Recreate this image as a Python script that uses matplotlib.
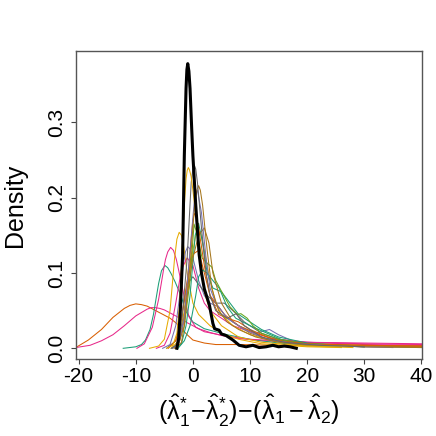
import matplotlib
matplotlib.use("Agg")
import matplotlib.pyplot as plt

# Dark2 palette, as used by the original R plot
teal = "#1B9E77"
orange = "#D95F02"
purple = "#7570B3"
pink = "#E7298A"
green = "#66A61E"
yellow = "#E6AB02"
brown = "#A6761D"
grey = "#666666"

# bootstrap density curves (x, density)
orange_wide_x = [-20.5, -18.3, -16, -14, -12, -11, -10, -9, -8, -6, -4, -3, -2, -1, 0, 2, 4, 8, 15, 25, 40.1]
orange_wide_y = [0.001, 0.011, 0.025, 0.041, 0.053, 0.057, 0.059, 0.058, 0.056, 0.048, 0.040, 0.034, 0.026, 0.018, 0.011, 0.007, 0.005, 0.005, 0.004, 0.003, 0.003]

pink_wide_x = [-20.5, -18, -16, -14, -12, -10, -8, -7.3, -6.6, -5.8, -5, -3, -1, 1, 3, 5, 8, 12, 20, 30, 40.1]
pink_wide_y = [0.001, 0.004, 0.010, 0.018, 0.030, 0.043, 0.052, 0.054, 0.054, 0.053, 0.051, 0.043, 0.034, 0.026, 0.021, 0.017, 0.013, 0.010, 0.008, 0.007, 0.006]

teal_left_x = [-12.2, -10, -9, -8.3, -7.5, -6.9, -6.4, -6, -5.5, -4.9, -4.4, -3.8, -3.1, -2, -1.3, 0, 2, 4, 6, 10, 15, 20, 28]
teal_left_y = [0, 0.002, 0.005, 0.011, 0.025, 0.045, 0.068, 0.086, 0.103, 0.110, 0.107, 0.099, 0.088, 0.068, 0.050, 0.035, 0.026, 0.022, 0.018, 0.012, 0.007, 0.004, 0.002]

pink_left_x = [-9.8, -8.5, -7.1, -6, -5.1, -4.8, -4.4, -3.9, -3.4, -2.9, -2.5, -1.5, -0.7, 0.5, 2, 4, 6, 10, 20, 30, 40.1]
pink_left_y = [0, 0.006, 0.028, 0.065, 0.106, 0.118, 0.128, 0.134, 0.130, 0.118, 0.104, 0.068, 0.042, 0.028, 0.022, 0.019, 0.016, 0.012, 0.008, 0.005, 0.004]

yellow_left_x = [-7.6, -6, -5, -4, -3.2, -2.8, -2.4, -2.0, -1.7, -1, 0, 1, 3, 5, 8, 12, 20, 26]
yellow_left_y = [0, 0.003, 0.012, 0.05, 0.12, 0.145, 0.154, 0.150, 0.14, 0.10, 0.06, 0.045, 0.03, 0.02, 0.012, 0.006, 0.002, 0.001]

yellow_tall_x = [-4.6, -3.5, -2.8, -2.3, -1.7, -1.5, -1.2, -1.0, -0.8, -0.6, -0.3, 0, 0.55, 1.2, 2, 3, 5, 8, 12, 20, 28]
yellow_tall_y = [0, 0.004, 0.02, 0.06, 0.16, 0.19, 0.225, 0.236, 0.240, 0.237, 0.228, 0.21, 0.174, 0.12, 0.075, 0.05, 0.03, 0.015, 0.008, 0.003, 0.001]

grey_tall_x = [-3.8, -2.8, -2, -1, -0.3, 0.0, 0.26, 0.5, 0.8, 1.5, 2.3, 3, 4, 6, 7.6, 9, 12, 16, 22, 30]
grey_tall_y = [0, 0.005, 0.03, 0.12, 0.22, 0.238, 0.243, 0.238, 0.22, 0.16, 0.10, 0.07, 0.05, 0.04, 0.046, 0.03, 0.015, 0.008, 0.004, 0.002]

brown_tall_x = [-2.9, -2, -1.5, -0.5, 0.3, 0.7, 1.0, 1.3, 1.7, 2.5, 3.3, 4.5, 6, 8, 11, 15, 20, 30, 40.1]
brown_tall_y = [0, 0.008, 0.03, 0.11, 0.19, 0.210, 0.216, 0.210, 0.19, 0.13, 0.08, 0.05, 0.035, 0.025, 0.015, 0.008, 0.004, 0.002, 0.001]

orange_mid_x = [-3.1, -2.3, -1.5, -0.7, 0.0, 0.26, 0.6, 1, 2, 3, 4, 5.5, 8, 11, 15, 20, 30, 40.1]
orange_mid_y = [0, 0.01, 0.04, 0.11, 0.170, 0.179, 0.175, 0.16, 0.11, 0.07, 0.06, 0.045, 0.03, 0.02, 0.01, 0.006, 0.004, 0.003]

green_x = [-3.6, -2.5, -1.5, -0.5, 0.2, 0.8, 1.6, 2.5, 3.3, 4, 5.2, 6.5, 7.8, 8.4, 9.5, 10.5, 12, 15, 20, 30]
green_y = [0, 0.006, 0.03, 0.09, 0.165, 0.15, 0.12, 0.113, 0.108, 0.09, 0.073, 0.055, 0.045, 0.046, 0.040, 0.030, 0.020, 0.012, 0.006, 0.003]

purple_x = [-5.3, -4, -3, -2.3, -1.7, -1.3, -0.9, -0.5, 0, 1, 2, 3, 4.5, 6, 8, 11, 13.4, 15, 18, 22, 30, 40.1]
purple_y = [0, 0.005, 0.03, 0.07, 0.11, 0.128, 0.135, 0.132, 0.12, 0.09, 0.07, 0.06, 0.055, 0.04, 0.03, 0.02, 0.025, 0.018, 0.008, 0.004, 0.002, 0.001]

teal_mid_x = [-3.1, -2, -1.2, -0.5, 0.4, 1, 1.7, 2.5, 3.5, 5, 6.5, 8, 10, 12, 15, 20, 30]
teal_mid_y = [0, 0.006, 0.03, 0.07, 0.15, 0.166, 0.14, 0.10, 0.08, 0.075, 0.06, 0.045, 0.035, 0.025, 0.015, 0.007, 0.002]

teal_right_x = [-2.6, -1.5, -0.5, 0.5, 1, 1.7, 2.5, 3.5, 4.6, 6, 7.5, 10, 13, 16, 20, 26]
teal_right_y = [0, 0.01, 0.03, 0.07, 0.095, 0.104, 0.10, 0.09, 0.08, 0.055, 0.04, 0.03, 0.02, 0.01, 0.005, 0.002]

orange_low_x = [-4.3, -3, -2, -1, 0, 1, 2, 3, 4.5, 6, 8, 10, 14, 20, 30, 40.1]
orange_low_y = [0, 0.01, 0.04, 0.09, 0.125, 0.13, 0.10, 0.07, 0.045, 0.04, 0.035, 0.025, 0.012, 0.006, 0.004, 0.003]

pink_mid_x = [-6.4, -5, -4, -3, -2, -1, 0, 1, 2, 3, 5, 7, 10, 14, 20, 30, 40.1]
pink_mid_y = [0, 0.004, 0.02, 0.06, 0.105, 0.12, 0.11, 0.08, 0.06, 0.05, 0.04, 0.03, 0.022, 0.013, 0.008, 0.006, 0.005]

purple_tall_x = [-3.6, -2.5, -1.5, -0.5, 0.3, 0.8, 1.5, 2.3, 3, 4, 6, 9, 13, 18, 25, 35]
purple_tall_y = [0, 0.006, 0.04, 0.13, 0.20, 0.21, 0.18, 0.12, 0.08, 0.06, 0.04, 0.025, 0.012, 0.006, 0.003, 0.001]

grey_low_x = [-4.6, -3, -2, -1, 0, 1, 2.5, 4, 5.5, 7, 9, 12, 15, 20, 30]
grey_low_y = [0, 0.01, 0.04, 0.085, 0.095, 0.085, 0.07, 0.06, 0.06, 0.05, 0.035, 0.02, 0.012, 0.006, 0.003]

yellow_mid_x = [-3.8, -2.5, -1.5, -0.5, 0.5, 1.3, 2, 3, 4, 5, 7, 10, 14, 20, 30]
yellow_mid_y = [0, 0.01, 0.05, 0.11, 0.15, 0.155, 0.13, 0.09, 0.06, 0.045, 0.03, 0.018, 0.01, 0.005, 0.002]

brown_mid_x = [-3.3, -2, -1, 0, 1, 2, 2.8, 3.5, 5, 7, 10, 14, 20, 30, 40.1]
brown_mid_y = [0, 0.02, 0.07, 0.12, 0.15, 0.16, 0.14, 0.10, 0.06, 0.035, 0.02, 0.01, 0.005, 0.003, 0.002]

# density of the original sample (thick black)
obs_x = [-2.8, -2.5, -2.2, -1.8, -1.5, -1.2, -1.05, -0.9, -0.7, -0.5, -0.2, 0, 0.5, 1.1, 1.5, 2.0, 2.9, 3.5, 3.8, 4.6, 5.0, 5.8, 7.0, 8.1, 9.3, 10.5, 11.6, 12.8, 14, 15, 16, 17, 18.1]
obs_y = [0, 0.013, 0.05, 0.124, 0.256, 0.345, 0.370, 0.378, 0.368, 0.345, 0.29, 0.256, 0.19, 0.124, 0.1, 0.079, 0.057, 0.033, 0.026, 0.024, 0.019, 0.017, 0.011, 0.004, 0.002, 0.004, 0.001, 0.002, 0.004, 0.002, 0.003, 0.002, 0.0]

curves = [
    (orange_wide_x, orange_wide_y, orange),
    (pink_wide_x, pink_wide_y, pink),
    (teal_left_x, teal_left_y, teal),
    (pink_left_x, pink_left_y, pink),
    (yellow_left_x, yellow_left_y, yellow),
    (purple_x, purple_y, purple),
    (pink_mid_x, pink_mid_y, pink),
    (grey_low_x, grey_low_y, grey),
    (orange_low_x, orange_low_y, orange),
    (yellow_mid_x, yellow_mid_y, yellow),
    (teal_right_x, teal_right_y, teal),
    (teal_mid_x, teal_mid_y, teal),
    (green_x, green_y, green),
    (brown_mid_x, brown_mid_y, brown),
    (orange_mid_x, orange_mid_y, orange),
    (purple_tall_x, purple_tall_y, purple),
    (brown_tall_x, brown_tall_y, brown),
    (grey_tall_x, grey_tall_y, grey),
    (yellow_tall_x, yellow_tall_y, yellow),
]

x_ticks = [-20, -10, 0, 10, 20, 30, 40]
y_ticks = [0.0, 0.1, 0.2, 0.3]

plt.rcParams["font.family"] = ["Liberation Sans", "DejaVu Sans"]
plt.rcParams["mathtext.fontset"] = "custom"
plt.rcParams["mathtext.rm"] = "Liberation Sans"
plt.rcParams["mathtext.it"] = "Liberation Sans"

W = 436.0
fig = plt.figure(figsize=(4.36, 4.36), dpi=100)
ax = fig.add_axes([76 / W, (W - 359) / W, (422 - 76) / W, (359 - 51) / W])

for xs, ys, col in curves:
    ax.plot(xs, ys, color=col, lw=0.75, solid_joinstyle="round")
ax.plot(obs_x, obs_y, color="black", lw=2.2, solid_joinstyle="round")

ax.set_xlim(-20.46, 40.1)
ax.set_ylim(-0.0142, 0.3948)
ax.set_xticks(x_ticks)
ax.set_xticklabels([str(v) for v in x_ticks])
ax.set_yticks(y_ticks)
ax.set_yticklabels(["%.1f" % v for v in y_ticks])

for sp in ax.spines.values():
    sp.set_color("#555555")
    sp.set_linewidth(1.0)
ax.tick_params(axis="both", direction="out", length=3.6, width=0.8,
               color="#444444", labelsize=15)
ax.tick_params(axis="x", pad=2.0)
ax.tick_params(axis="y", pad=3.5)
for t in ax.get_yticklabels():
    t.set_rotation(90)
    t.set_va("center")

fig.text(15 / W, 1 - 205 / W, "Density", rotation=90, ha="center", va="center", fontsize=18)
fig.text(249 / W, 1 - 411 / W,
         r"$(\hat{\lambda}^{*}_{1}\!-\!\hat{\lambda}^{*}_{2})\!-\!(\hat{\lambda}_{1}-\hat{\lambda}_{2})$",
         ha="center", va="center", fontsize=18)

fig.savefig("out.png", dpi=100)
